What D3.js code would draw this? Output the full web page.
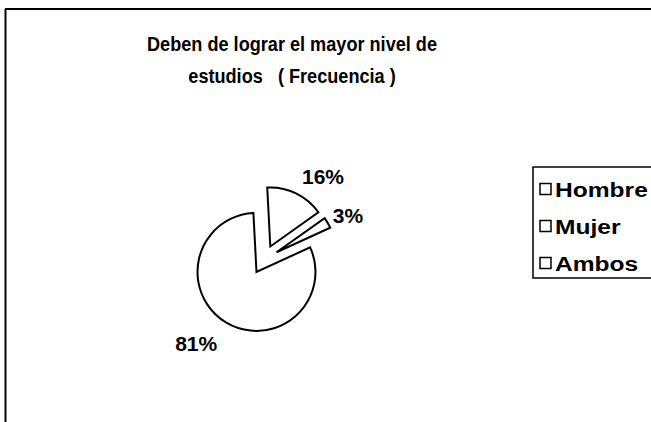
<!DOCTYPE html>
<html>
<head>
<meta charset="utf-8">
<script src="https://cdn.jsdelivr.net/npm/d3@7"></script>
<style>
  html, body { margin: 0; padding: 0; background: #fff; }
  svg { display: block; }
  text { font-family: "Liberation Sans", Arial, sans-serif; font-weight: bold; fill: #000; }
</style>
</head>
<body>
<svg id="chart" width="651" height="422"></svg>
<script>
// ---- data ----
const titleLines = ["Deben de lograr el mayor nivel de", "estudios   ( Frecuencia )"];
const categories = ["Hombre", "Mujer", "Ambos"];
const values = [16, 3, 81];
const percentLabels = ["16%", "3%", "81%"];

// ---- layout ----
const W = 651, H = 422;
const svg = d3.select("#chart");

// outer frame (top and left edges visible)
svg.append("line").attr("x1", 5).attr("y1", 9).attr("x2", W).attr("y2", 9)
  .attr("stroke", "#000").attr("stroke-width", 2);
svg.append("line").attr("x1", 5.5).attr("y1", 9).attr("x2", 5.5).attr("y2", H)
  .attr("stroke", "#000").attr("stroke-width", 2);

// title
svg.append("g").selectAll("text").data(titleLines).join("text")
  .attr("transform", (d, i) => `translate(292,${51 + i * 32}) scale(0.93,1)`)
  .attr("text-anchor", "middle")
  .attr("font-size", 19.5)
  .style("white-space", "pre")
  .text(d => d);

// pie
const cx = 264, cy = 259.5, r = 59, explode = 14.5;
const startOffset = -3 * Math.PI / 180;
const pie = d3.pie().sort(null).value(d => d)
  .startAngle(startOffset).endAngle(startOffset + 2 * Math.PI);
const arcs = pie(values);
const arc = d3.arc().innerRadius(0).outerRadius(r);
const labelArc = d3.arc().innerRadius(100).outerRadius(100);

const g = svg.append("g").attr("transform", `translate(${cx},${cy})`);
function dir(a) {
  const m = (a.startAngle + a.endAngle) / 2;
  return [Math.sin(m), -Math.cos(m)];
}
g.selectAll("path").data(arcs).join("path")
  .attr("d", arc)
  .attr("transform", d => { const u = dir(d); return `translate(${u[0]*explode},${u[1]*explode})`; })
  .attr("fill", "#fff").attr("stroke", "#000").attr("stroke-width", 2)
  .attr("stroke-linejoin", "miter");

// percent labels (Excel-style outside placement, small per-label adjustments)
const labelNudge = [[15.5, 7.5], [-2.6, 6], [-16, -2]];
g.selectAll("text.pct").data(arcs).join("text")
  .attr("class", "pct")
  .attr("font-size", 21)
  .attr("text-anchor", "middle")
  .attr("x", (d, i) => labelArc.centroid(d)[0] + labelNudge[i][0])
  .attr("y", (d, i) => labelArc.centroid(d)[1] + labelNudge[i][1] + 7.5)
  .text((d, i) => percentLabels[i]);

// legend
const legend = svg.append("g");
legend.append("rect").attr("x", 533).attr("y", 167).attr("width", 140).attr("height", 111)
  .attr("fill", "#fff").attr("stroke", "#000").attr("stroke-width", 1.5);
const ly = d3.scalePoint().domain(categories).range([189, 263]);
const item = legend.selectAll("g.item").data(categories).join("g")
  .attr("class", "item")
  .attr("transform", d => `translate(540,${ly(d)})`);
item.append("rect").attr("x", 0).attr("y", -5.5).attr("width", 11).attr("height", 11)
  .attr("fill", "#fff").attr("stroke", "#000").attr("stroke-width", 1.5);
item.append("text")
  .attr("transform", "translate(15,7.5) scale(1.17,1)")
  .attr("font-size", 21)
  .text(d => d);
</script>
</body>
</html>
